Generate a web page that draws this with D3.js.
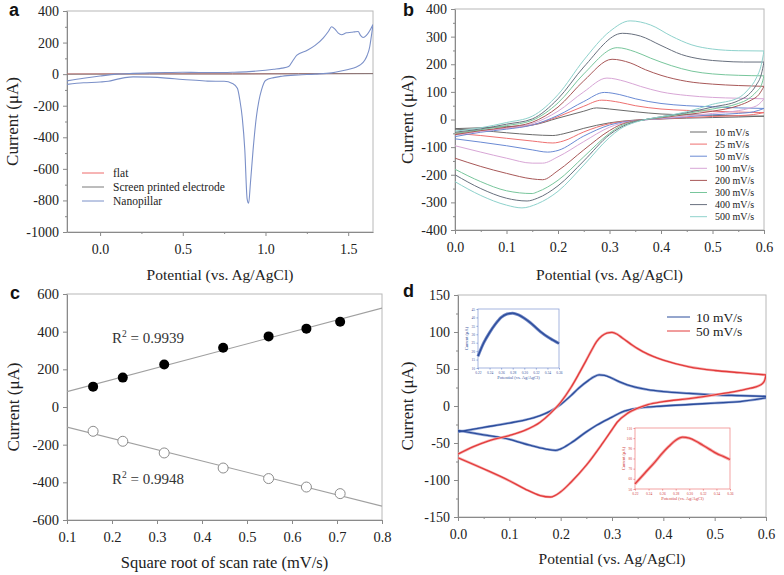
<!DOCTYPE html>
<html><head><meta charset="utf-8">
<script src="https://cdn.jsdelivr.net/npm/d3@7"></script>
<style>
body{margin:0;background:#fff}
svg{display:block}
</style>
</head><body>
<svg id="chart" width="784" height="575"></svg>
<script>
// ---------------- DATA ----------------
// Panel a: CV of three electrodes (x: potential V, y: current µA)
const aLegend = ["flat", "Screen printed electrode", "Nanopillar"];
const aFlat = [[-0.2,1],[0.3,2],[0.8,2],[1.2,3],[1.65,4]];
const aSPE = [[-0.2,0],[0.3,1],[0.8,1],[1.2,2],[1.65,3]];
const aNanoFwd = [[-0.2,-43],[-0.1,-26],[0.0,-12],[0.1,0],[0.2,5],[0.3,8],[0.4,10],[0.5,12],[0.6,10],[0.7,10],[0.8,12],[0.9,16],[1.0,25],[1.05,31],[1.1,38],[1.14,48],[1.165,85],[1.19,120],[1.25,150],[1.3,182],[1.35,230],[1.38,270],[1.4,300],[1.42,285],[1.44,260],[1.46,250],[1.49,262],[1.52,265],[1.54,268],[1.56,270],[1.575,245],[1.59,232],[1.61,245],[1.63,275],[1.65,315]];
const aNanoRev = [[1.65,312],[1.64,240],[1.63,172],[1.615,120],[1.6,88],[1.575,60],[1.55,46],[1.5,30],[1.45,18],[1.4,8],[1.3,0],[1.2,-5],[1.1,-13],[1.05,-22],[1.0,-40],[0.976,-100],[0.96,-170],[0.945,-270],[0.925,-480],[0.909,-690],[0.898,-818],[0.889,-790],[0.875,-480],[0.86,-280],[0.845,-164],[0.83,-90],[0.8,-59],[0.75,-45],[0.7,-45],[0.65,-44],[0.6,-40],[0.5,-34],[0.4,-25],[0.3,-19],[0.2,-17],[0.15,-22],[0.1,-33],[0.05,-45],[0.0,-50],[-0.1,-55],[-0.2,-65]];

// Panel b: CVs at scan rates
const bLabels = ["10 mV/s","25 mV/s","50 mV/s","100 mV/s","200 mV/s","300 mV/s","400 mV/s","500 mV/s"];
const b10Up = [[0,-33],[0.05,-30],[0.1,-26],[0.15,-20],[0.2,5],[0.25,30],[0.275,42],[0.3,38],[0.35,28],[0.4,20],[0.45,17],[0.5,15],[0.55,13],[0.6,12]];
const b10Down = [[0.6,12],[0.55,9],[0.5,7],[0.45,5],[0.4,2],[0.35,-2],[0.3,-12],[0.25,-32],[0.21,-52],[0.19,-58],[0.15,-55],[0.1,-48],[0.05,-40],[0,-35]];
const b25Up = [[0,-50],[0.05,-40],[0.1,-32],[0.15,-20],[0.2,10],[0.25,48],[0.285,70],[0.32,62],[0.35,50],[0.4,38],[0.45,33],[0.5,30],[0.55,27],[0.6,25]];
const b25Down = [[0.6,25],[0.58,18],[0.55,14],[0.5,11],[0.45,7],[0.4,2],[0.35,-3],[0.3,-15],[0.25,-45],[0.21,-78],[0.19,-85],[0.15,-78],[0.1,-68],[0.05,-58],[0,-50]];
const b50Up = [[0,-62],[0.05,-46],[0.1,-35],[0.15,-20],[0.2,15],[0.25,65],[0.29,98],[0.32,90],[0.35,75],[0.4,58],[0.45,50],[0.5,46],[0.55,42],[0.6,40]];
const b50Down = [[0.6,40],[0.58,28],[0.55,22],[0.5,17],[0.45,10],[0.4,3],[0.37,-1],[0.35,-4],[0.3,-20],[0.25,-60],[0.2,-112],[0.18,-118],[0.15,-110],[0.1,-95],[0.05,-82],[0,-70]];
const b100Up = [[0,-56],[0.05,-43],[0.1,-31],[0.15,-15],[0.2,30],[0.25,100],[0.295,150],[0.33,138],[0.36,120],[0.4,100],[0.45,87],[0.5,80],[0.55,77],[0.6,75]];
const b100Down = [[0.6,75],[0.59,55],[0.57,40],[0.55,32],[0.5,22],[0.45,12],[0.4,4],[0.37,-1],[0.35,-5],[0.32,-15],[0.3,-28],[0.25,-80],[0.2,-135],[0.17,-158],[0.15,-158],[0.1,-140],[0.05,-118],[0,-95]];
const b200Up = [[0,-55],[0.05,-40],[0.1,-28],[0.15,-10],[0.2,45],[0.25,140],[0.305,218],[0.34,205],[0.37,180],[0.4,160],[0.45,138],[0.5,128],[0.55,123],[0.6,120]];
const b200Down = [[0.6,120],[0.59,90],[0.575,70],[0.55,50],[0.5,30],[0.45,18],[0.4,6],[0.37,0],[0.35,-5],[0.32,-20],[0.3,-40],[0.25,-110],[0.2,-185],[0.17,-218],[0.15,-215],[0.1,-195],[0.05,-170],[0,-140]];
const b300Up = [[0,-50],[0.05,-37],[0.1,-22],[0.15,-3],[0.2,60],[0.25,165],[0.315,260],[0.35,245],[0.38,222],[0.42,195],[0.46,175],[0.5,165],[0.55,160],[0.6,158]];
const b300Down = [[0.6,158],[0.595,125],[0.585,100],[0.57,75],[0.55,58],[0.5,38],[0.45,22],[0.4,8],[0.37,0],[0.35,-7],[0.32,-25],[0.3,-50],[0.25,-135],[0.2,-220],[0.16,-262],[0.15,-268],[0.1,-258],[0.05,-225],[0,-180]];
const b400Up = [[0,-46],[0.05,-34],[0.1,-17],[0.15,2],[0.2,75],[0.25,190],[0.325,312],[0.36,302],[0.4,268],[0.44,235],[0.48,218],[0.52,211],[0.56,208],[0.6,208]];
const b400Down = [[0.6,208],[0.595,165],[0.585,125],[0.57,90],[0.55,68],[0.5,45],[0.45,25],[0.4,10],[0.37,0],[0.35,-8],[0.32,-30],[0.3,-55],[0.25,-150],[0.2,-240],[0.16,-285],[0.14,-295],[0.1,-285],[0.05,-250],[0,-200]];
const b500Up = [[0,-42],[0.05,-30],[0.1,-11],[0.15,12],[0.2,90],[0.25,215],[0.3,318],[0.34,357],[0.38,342],[0.42,302],[0.46,270],[0.5,255],[0.55,249],[0.6,248]];
const b500Down = [[0.6,248],[0.595,200],[0.585,150],[0.57,110],[0.55,78],[0.5,55],[0.45,28],[0.4,10],[0.37,0],[0.35,-10],[0.32,-35],[0.3,-65],[0.25,-165],[0.2,-260],[0.16,-305],[0.13,-320],[0.1,-310],[0.05,-275],[0,-225]];

// Panel c: peak currents vs sqrt(scan rate)
const cSqrtRate = [0.158, 0.224, 0.316, 0.447, 0.548, 0.632, 0.707];
const cAnodic = [108, 156, 226, 315, 375, 416, 453];
const cCathodic = [-129, -182, -244, -324, -380, -425, -460];
const cR2 = ["0.9939", "0.9948"];

// Panel d: repeated CVs at 10 and 50 mV/s
const dLabels = ["10 mV/s", "50 mV/s"];
const d10Up = [[0,-35],[0.05,-29],[0.1,-23],[0.13,-19],[0.16,-13],[0.18,-7],[0.2,2],[0.22,14],[0.235,24],[0.255,35],[0.265,39.5],[0.275,42],[0.285,41.5],[0.3,37.5],[0.315,32.5],[0.33,28.5],[0.345,25.5],[0.37,22],[0.4,19.5],[0.45,17],[0.5,15],[0.55,14],[0.6,13]];
const d10Down = [[0.6,11],[0.55,6],[0.5,4],[0.45,2],[0.4,0],[0.35,-3],[0.32,-8],[0.3,-15],[0.27,-26],[0.25,-35],[0.22,-50],[0.2,-58],[0.19,-60],[0.17,-58],[0.14,-53],[0.1,-45],[0.05,-39],[0,-33]];
const d50Up = [[0,-65],[0.03,-55],[0.06,-47],[0.1,-40],[0.13,-33],[0.16,-22],[0.18,-10],[0.2,5],[0.22,25],[0.235,43],[0.25,62],[0.26,75],[0.27,87],[0.28,94.5],[0.29,98.5],[0.3,99.5],[0.31,97],[0.32,92],[0.33,87],[0.34,82],[0.35,77.5],[0.36,73.5],[0.37,70],[0.38,67],[0.4,62],[0.45,53],[0.5,48],[0.55,45],[0.6,42]];
const d50Down = [[0.6,42],[0.598,36],[0.594,31],[0.585,27],[0.57,24],[0.55,21],[0.5,15],[0.45,10],[0.4,6],[0.37,2],[0.35,-3],[0.33,-10],[0.31,-22],[0.3,-32],[0.28,-52],[0.25,-80],[0.22,-103],[0.2,-116],[0.18,-123],[0.16,-121],[0.13,-112],[0.1,-101],[0.05,-85],[0,-70]];
const dInsetBlue = [[0.22,17],[0.23,25],[0.24,31],[0.25,36],[0.26,40],[0.27,42],[0.28,42.5],[0.29,41.5],[0.3,39.5],[0.31,37],[0.32,34],[0.33,31],[0.34,28.5],[0.35,26.5],[0.36,24.5]];
const dInsetRed = [[0.22,55],[0.235,66],[0.25,77],[0.26,85],[0.27,92],[0.28,98],[0.29,101],[0.3,100],[0.31,97],[0.32,93],[0.33,89],[0.34,85],[0.35,82],[0.36,79]];

// ---------------- DRAWING ----------------
const svg = d3.select("#chart");
const SERIF = "Liberation Serif, Times New Roman, serif";
const range = (a, b, s) => d3.range(a, b + s / 2, s).map(v => +v.toFixed(4));
const sorted = dat => dat.slice().sort((p, q) => p[0] - q[0]);
let clipId = 0;

function makePanel(p) {
  const g = svg.append("g");
  const x = d3.scaleLinear().domain(p.xDomain).range([p.left, p.right]);
  const y = d3.scaleLinear().domain(p.yDomain).range([p.bottom, p.top]);
  g.append("rect").attr("x", p.left).attr("y", p.top)
    .attr("width", p.right - p.left).attr("height", p.bottom - p.top)
    .attr("fill", "#fff").attr("stroke", "#b8b8b8").attr("stroke-width", 1);
  const styleAxis = s => {
    s.attr("font-family", SERIF).attr("font-size", p.fontSize || 14);
    s.selectAll(".domain").attr("stroke", "#8a8a8a");
    s.selectAll(".tick line").attr("stroke", "#8a8a8a");
    s.selectAll(".tick text").attr("fill", "#222");
  };
  if (p.xMinor) g.append("g").attr("transform", `translate(0,${p.bottom})`)
    .call(d3.axisBottom(x).tickValues(p.xMinor).tickSize(2).tickFormat(""))
    .call(s => { s.select(".domain").remove(); s.selectAll("line").attr("stroke", "#8a8a8a"); });
  if (p.yMinor) g.append("g").attr("transform", `translate(${p.left},0)`)
    .call(d3.axisLeft(y).tickValues(p.yMinor).tickSize(2).tickFormat(""))
    .call(s => { s.select(".domain").remove(); s.selectAll("line").attr("stroke", "#8a8a8a"); });
  g.append("g").attr("transform", `translate(0,${p.bottom})`)
    .call(d3.axisBottom(x).tickValues(p.xTicks).tickSize(4).tickSizeOuter(0).tickPadding(8).tickFormat(p.xFmt))
    .call(styleAxis);
  g.append("g").attr("transform", `translate(${p.left},0)`)
    .call(d3.axisLeft(y).tickValues(p.yTicks).tickSize(4).tickSizeOuter(0).tickPadding(4).tickFormat(d => String(d)))
    .call(styleAxis);
  g.append("text").attr("x", (p.left + p.right) / 2).attr("y", p.xTitleY)
    .attr("text-anchor", "middle").attr("font-family", SERIF).attr("font-size", p.xTitleSize || 15.5).attr("fill", "#222")
    .text(p.xTitle);
  g.append("text").attr("transform", `translate(${p.yTitleX},${(p.top + p.bottom) / 2}) rotate(-90)`)
    .attr("text-anchor", "middle").attr("font-family", SERIF).attr("font-size", 17).attr("fill", "#222")
    .text(p.yTitle);
  g.append("text").attr("x", p.letterX).attr("y", p.letterY)
    .attr("font-family", "Liberation Sans, Arial, sans-serif").attr("font-weight", "bold")
    .attr("font-size", 18).attr("fill", "#111").text(p.letter);
  const id = "clip" + (clipId++);
  svg.append("clipPath").attr("id", id).append("rect")
    .attr("x", p.left).attr("y", p.top).attr("width", p.right - p.left).attr("height", p.bottom - p.top);
  const plot = g.append("g").attr("clip-path", `url(#${id})`);
  return { g, x, y, plot };
}

const lineGen = (x, y) => {
  const l = d3.line().x(d => x(d[0])).y(d => y(d[1])).curve(d3.curveMonotoneX);
  return dat => l(sorted(dat));
};

// ----- Panel a -----
{
  const P = makePanel({
    left: 67, right: 373, top: 11, bottom: 232,
    xDomain: [-0.2, 1.65], yDomain: [-1000, 400],
    xTicks: [0, 0.5, 1.0, 1.5], xMinor: [0.25, 0.75, 1.25],
    yTicks: range(-1000, 400, 200), yMinor: range(-900, 300, 200),
    xFmt: d => d.toFixed(1),
    xTitle: "Potential (vs. Ag/AgCl)", yTitle: "Current (μA)",
    xTitleY: 280, yTitleX: 18, letter: "a", letterX: 9, letterY: 16
  });
  const L = lineGen(P.x, P.y);
  const aColors = ["#ee6b6b", "#7a7a7a", "#7b90c8"];
  P.plot.append("path").datum(aFlat).attr("d", L).attr("fill", "none").attr("stroke", aColors[0]).attr("stroke-width", 1);
  P.plot.append("path").datum(aSPE).attr("d", L).attr("fill", "none").attr("stroke", aColors[1]).attr("stroke-width", 1);
  [aNanoFwd, aNanoRev].forEach(dat =>
    P.plot.append("path").datum(dat).attr("d", L).attr("fill", "none").attr("stroke", aColors[2]).attr("stroke-width", 1.1));
  aLegend.forEach((t, i) => {
    const yy = 173 + i * 14;
    P.g.append("line").attr("x1", 82).attr("x2", 104).attr("y1", yy).attr("y2", yy).attr("stroke", aColors[i]).attr("stroke-width", 1);
    P.g.append("text").attr("x", 113).attr("y", yy + 4).attr("font-family", SERIF).attr("font-size", 11.5).attr("fill", "#222").text(t);
  });
}

// ----- Panel b -----
{
  const P = makePanel({
    left: 455, right: 764, top: 9, bottom: 230,
    xDomain: [0, 0.6], yDomain: [-400, 400],
    xTicks: range(0, 0.6, 0.1), xMinor: range(0.05, 0.55, 0.1),
    yTicks: range(-400, 400, 100), yMinor: range(-350, 350, 100),
    xFmt: d => d.toFixed(1),
    xTitle: "Potential (vs. Ag/AgCl)", yTitle: "Current (μA)",
    xTitleY: 280, yTitleX: 413, letter: "b", letterX: 403, letterY: 16
  });
  const L = lineGen(P.x, P.y);
  const bColors = ["#6a6a6a", "#ee7070", "#6a8ad4", "#d8a6d6", "#a85858", "#78c69c", "#68707e", "#8ed2cc"];
  const bUp = [b10Up, b25Up, b50Up, b100Up, b200Up, b300Up, b400Up, b500Up];
  const bDown = [b10Down, b25Down, b50Down, b100Down, b200Down, b300Down, b400Down, b500Down];
  bLabels.forEach((lab, i) => {
    [bUp[i], bDown[i]].forEach(dat =>
      P.plot.append("path").datum(dat).attr("d", L).attr("fill", "none").attr("stroke", bColors[i]).attr("stroke-width", 1));
    const yy = 132 + i * 12.1;
    P.g.append("line").attr("x1", 690).attr("x2", 707).attr("y1", yy).attr("y2", yy).attr("stroke", bColors[i]).attr("stroke-width", 1);
    P.g.append("text").attr("x", 715).attr("y", yy + 3.5).attr("font-family", SERIF).attr("font-size", 10).attr("fill", "#222").text(lab);
  });
}

// ----- Panel c -----
{
  const P = makePanel({
    left: 67, right: 382, top: 294, bottom: 520,
    xDomain: [0.1, 0.8], yDomain: [-600, 600],
    xTicks: range(0.1, 0.8, 0.1),
    yTicks: range(-600, 600, 200),
    xFmt: d => d.toFixed(1), fontSize: 14.5, xTitleSize: 16.5,
    xTitle: "Square root of scan rate (mV/s)", yTitle: "Current (μA)",
    xTitleY: 568, yTitleX: 19, letter: "c", letterX: 10, letterY: 299
  });
  const fit = ys => {
    const mx = d3.mean(cSqrtRate), my = d3.mean(ys);
    const sxy = d3.sum(cSqrtRate, (v, i) => (v - mx) * (ys[i] - my));
    const sxx = d3.sum(cSqrtRate, v => (v - mx) ** 2);
    const b = sxy / sxx, a = my - b * mx;
    return P.x.domain().map(v => [v, a + b * v]);
  };
  const Lin = d3.line().x(d => P.x(d[0])).y(d => P.y(d[1]));
  [cAnodic, cCathodic].forEach(ys =>
    P.plot.append("path").datum(fit(ys)).attr("d", Lin).attr("fill", "none").attr("stroke", "#a0a0a0").attr("stroke-width", 1.1));
  P.plot.selectAll(".fc").data(cSqrtRate).join("circle")
    .attr("cx", d => P.x(d)).attr("cy", (d, i) => P.y(cAnodic[i])).attr("r", 5).attr("fill", "#000");
  P.plot.selectAll(".oc").data(cSqrtRate).join("circle")
    .attr("cx", d => P.x(d)).attr("cy", (d, i) => P.y(cCathodic[i])).attr("r", 5).attr("fill", "#fff").attr("stroke", "#8c8c8c").attr("stroke-width", 1);
  [[112, 343], [112, 484]].forEach((pos, i) => {
    const t = P.g.append("text").attr("x", pos[0]).attr("y", pos[1]).attr("font-family", SERIF).attr("font-size", 15).attr("fill", "#333");
    t.append("tspan").text("R");
    t.append("tspan").attr("dy", -6).attr("font-size", 9.5).text("2");
    t.append("tspan").attr("dy", 6).text(" = " + cR2[i]);
  });
}

// ----- Panel d -----
{
  const P = makePanel({
    left: 458, right: 766, top: 295, bottom: 517,
    xDomain: [0, 0.6], yDomain: [-150, 150],
    xTicks: range(0, 0.6, 0.1), xMinor: range(0.05, 0.55, 0.1),
    yTicks: range(-150, 150, 50), yMinor: range(-125, 125, 50),
    xFmt: d => d.toFixed(1),
    xTitle: "Potential (vs. Ag/AgCl)", yTitle: "Current (μA)",
    xTitleY: 564, yTitleX: 413, letter: "d", letterX: 403, letterY: 297
  });
  const L = lineGen(P.x, P.y);
  const dCol = ["#2b4c9b", "#e23b3b"], dHalo = ["#9aabd8", "#f7b0b0"];
  [[d10Up, d10Down], [d50Up, d50Down]].forEach((pair, i) => {
    pair.forEach(dat => P.plot.append("path").datum(dat).attr("d", L).attr("fill", "none").attr("stroke", dHalo[i]).attr("stroke-width", 2.6));
    pair.forEach(dat => P.plot.append("path").datum(dat).attr("d", L).attr("fill", "none").attr("stroke", dCol[i]).attr("stroke-width", 1.3));
  });
  dLabels.forEach((lab, i) => {
    const yy = 317 + i * 14;
    P.g.append("line").attr("x1", 667).attr("x2", 690).attr("y1", yy).attr("y2", yy).attr("stroke", dCol[i]).attr("stroke-width", 1);
    P.g.append("text").attr("x", 696).attr("y", yy + 4.5).attr("font-family", SERIF).attr("font-size", 13.5).attr("fill", "#222").text(lab);
  });

  function inset(o) {
    const g = P.g.append("g");
    g.append("rect").attr("x", o.left - 18).attr("y", o.top - 3).attr("width", o.right - o.left + 22).attr("height", o.bottom - o.top + 16).attr("fill", "#fff");
    const x = d3.scaleLinear().domain([0.22, 0.36]).range([o.left, o.right]);
    const y = d3.scaleLinear().domain(o.yDomain).range([o.bottom, o.top]);
    g.append("rect").attr("x", o.left).attr("y", o.top).attr("width", o.right - o.left).attr("height", o.bottom - o.top)
      .attr("fill", "none").attr("stroke", o.frame).attr("stroke-width", 0.8);
    const sty = s => {
      s.attr("font-family", SERIF).attr("font-size", 3.6);
      s.select(".domain").remove();
      s.selectAll("line").attr("stroke", o.frame);
      s.selectAll("text").attr("fill", o.text);
    };
    g.append("g").attr("transform", `translate(0,${o.bottom})`)
      .call(d3.axisBottom(x).tickValues(range(0.22, 0.36, 0.02)).tickSize(1.5).tickPadding(1.5).tickFormat(d => d.toFixed(2))).call(sty);
    g.append("g").attr("transform", `translate(${o.left},0)`)
      .call(d3.axisLeft(y).tickValues(o.yTicks).tickSize(1.5).tickPadding(1.5).tickFormat(d => String(d))).call(sty);
    g.append("text").attr("x", (o.left + o.right) / 2).attr("y", o.bottom + 11).attr("text-anchor", "middle")
      .attr("font-family", SERIF).attr("font-size", 4.5).attr("fill", o.text).text("Potential (vs. Ag/AgCl)");
    g.append("text").attr("transform", `translate(${o.left - 10},${(o.top + o.bottom) / 2}) rotate(-90)`).attr("text-anchor", "middle")
      .attr("font-family", SERIF).attr("font-size", 4.5).attr("fill", o.text).text("Current (μA)");
    const Li = d3.line().x(d => x(d[0])).y(d => y(d[1])).curve(d3.curveMonotoneX);
    g.append("path").datum(o.data).attr("d", Li).attr("fill", "none").attr("stroke", o.halo).attr("stroke-width", 3);
    g.append("path").datum(o.data).attr("d", Li).attr("fill", "none").attr("stroke", o.line).attr("stroke-width", 1.3);
  }
  inset({ left: 478, right: 559, top: 309, bottom: 368, yDomain: [10, 45], yTicks: range(10, 45, 5),
          data: dInsetBlue, frame: "#8fa3d8", text: "#3a56a0", line: "#2b4c9b", halo: "#7086c4" });
  inset({ left: 635, right: 730, top: 428, bottom: 489, yDomain: [50, 110], yTicks: range(50, 110, 10),
          data: dInsetRed, frame: "#f08c8c", text: "#d04040", line: "#e23b3b", halo: "#f6a6a6" });
}
</script>
</body></html>
